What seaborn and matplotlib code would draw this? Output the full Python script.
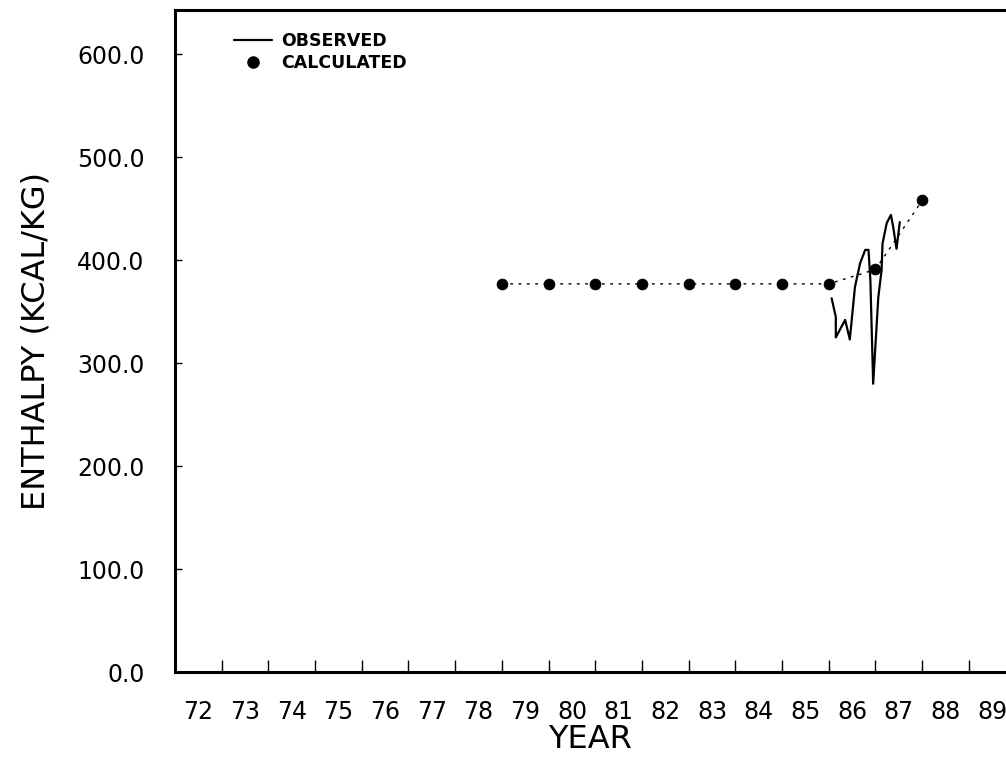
import matplotlib
matplotlib.use("Agg")
import matplotlib.pyplot as plt
import seaborn as sns
import pandas as pd
from matplotlib.lines import Line2D

# Calculated enthalpy, one value per year
calc_year = [79, 80, 81, 82, 83, 84, 85, 86, 87, 88]
calc_enthalpy = [377, 377, 377, 377, 377, 377, 377, 377, 391, 458]

# Observed enthalpy
obs_year = [86.06, 86.15, 86.15, 86.35, 86.45, 86.56, 86.67, 86.78, 86.85, 86.89,
            86.95, 87.06, 87.13, 87.15, 87.24, 87.33, 87.38, 87.45, 87.52]
obs_enthalpy = [363, 345, 325, 342, 323, 374, 397, 410, 410, 381,
                280, 364, 390, 416, 436, 444, 432, 411, 437]

year_labels = ["72", "73", "74", "75", "76", "77", "78", "79", "80",
               "81", "82", "83", "84", "85", "86", "87", "88", "89"]
y_ticks = [0, 100, 200, 300, 400, 500, 600]

sns.set_style("ticks", {"axes.edgecolor": "black", "text.color": "black",
                        "xtick.color": "black", "ytick.color": "black",
                        "axes.labelcolor": "black"})
plt.rcParams["font.family"] = ["DejaVu Sans"]

calc_df = pd.DataFrame({"year": calc_year, "enthalpy": calc_enthalpy})
obs_df = pd.DataFrame({"year": obs_year, "enthalpy": obs_enthalpy})

fig = plt.figure(figsize=(10.06, 7.57), dpi=100)
ax = fig.add_axes([175 / 1006, 1 - 672 / 757, 1 - 175 / 1006, (672 - 10) / 757])

sns.lineplot(data=calc_df, x="year", y="enthalpy", ax=ax, color="black",
             linewidth=1.0, linestyle=(0, (2, 4)), estimator=None, sort=False)
sns.lineplot(data=obs_df, x="year", y="enthalpy", ax=ax, color="black",
             linewidth=1.6, estimator=None, sort=False)
sns.scatterplot(data=calc_df, x="year", y="enthalpy", ax=ax, color="black",
                s=60, edgecolor="black", zorder=5)

ax.set_xlim(72, 72 + (1006 - 175) / 46.7)
ax.set_ylim(0, 643)

# year boundaries get tick marks, labels sit in the middle of each year
ax.set_xticks(range(73, 90))
ax.set_xticklabels([])
ax.set_xticks([72.5 + i for i in range(len(year_labels))], minor=True)
ax.set_xticklabels(year_labels, minor=True, fontsize=17)
ax.tick_params(axis="x", which="major", direction="in", length=9, width=1)
ax.tick_params(axis="x", which="minor", length=0, pad=20)

ax.set_yticks(y_ticks)
ax.set_yticklabels([f"{v:.1f}" for v in y_ticks], fontsize=17)
ax.tick_params(axis="y", direction="in", length=5, width=1, pad=22)

ax.set_xlabel("YEAR", fontsize=23, labelpad=0)
ax.set_ylabel("ENTHALPY (KCAL/KG)", fontsize=23, labelpad=18)

for side in ["left", "top", "bottom"]:
    ax.spines[side].set_linewidth(2.2)
ax.spines["right"].set_visible(False)

handles = [Line2D([], [], color="black", linewidth=1.6),
           Line2D([], [], color="black", marker="o", linestyle="none", markersize=8)]
ax.legend(handles, ["OBSERVED", "CALCULATED"], loc="upper left",
          bbox_to_anchor=(0.052, 0.99), frameon=False,
          handlelength=2.2, handletextpad=0.5, labelspacing=0.2,
          prop={"weight": "bold", "size": 12.5})

fig.savefig("out.png", dpi=100)
plt.close(fig)
